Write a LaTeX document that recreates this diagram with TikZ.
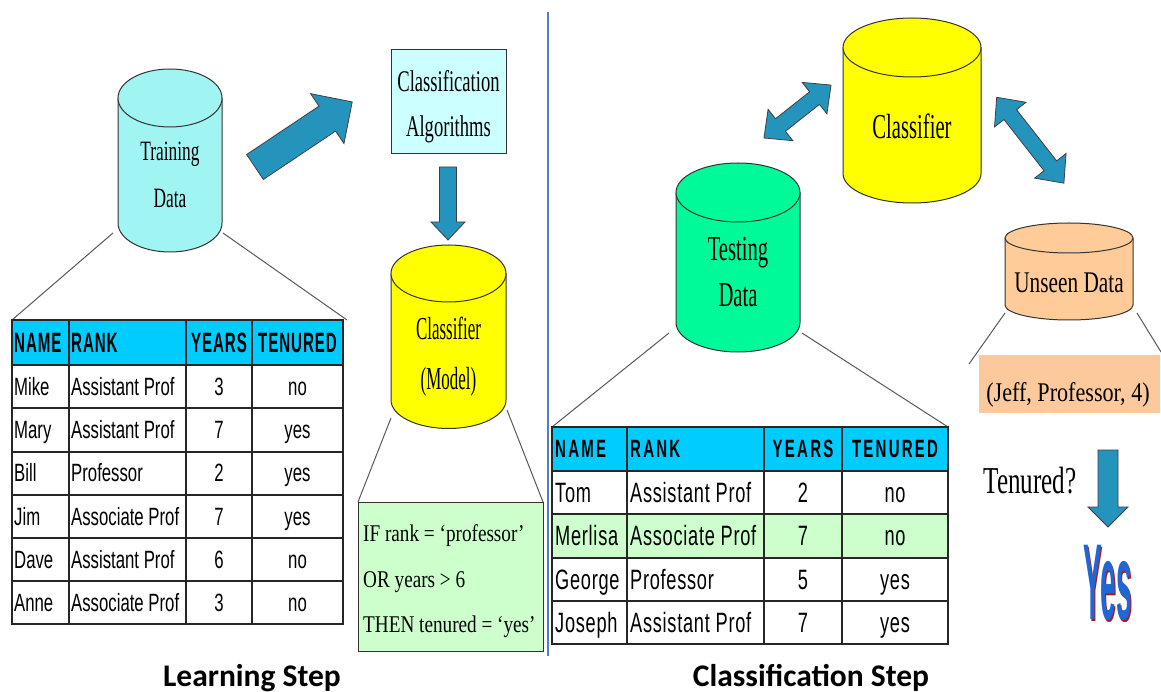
\documentclass[tikz,border=0pt]{standalone}
\usepackage{fontspec}
\usepackage{graphicx}
\setmainfont{Liberation Serif}
\newfontfamily\tsansA{Liberation Sans}
\newfontfamily\tsansB{Liberation Sans}[LetterSpace=4]
\newfontfamily\thdA{Liberation Sans}[LetterSpace=6]
\newfontfamily\thdB{Liberation Sans}[LetterSpace=15]
\newfontfamily\labfont{Carlito}
\newcommand\sq[2]{\scalebox{#1}[1]{#2}}
\newcommand\fs[1]{\fontsize{#1}{#1}\selectfont}
\newcommand\ml[4]{\scalebox{#1}[1]{\fontsize{#2}{#3}\selectfont\begin{tabular}{@{}c@{}}#4\end{tabular}}}
\definecolor{trainC}{HTML}{A0F4F2}
\definecolor{algC}{HTML}{CCFFFF}
\definecolor{yelC}{HTML}{FFFF00}
\definecolor{testC}{HTML}{00FA9A}
\definecolor{unseenC}{HTML}{FFCC99}
\definecolor{jeffC}{HTML}{FBC99B}
\definecolor{hdrC}{HTML}{00CCFF}
\definecolor{ruleC}{HTML}{CCFFCC}
\definecolor{arrC}{HTML}{2494BC}
\definecolor{divC}{HTML}{4F81BD}
\definecolor{yesB}{HTML}{1F66D6}
\definecolor{yesR}{HTML}{B01818}
\tikzset{
  cylline/.style={draw=black!80, line width=1pt},
  barrowsty/.style={fill=arrC, draw=black!75, line width=0.8pt, line join=miter},
  fan/.style={draw=black!65, line width=1pt},
  gridln/.style={draw=black!85, line width=1.6pt},
  divline/.style={draw=divC, line width=1.5pt},
  lbl/.style={inner sep=0pt},
  hA/.style={inner sep=0pt, font=\thdA\bfseries\fs{28}, text height=20pt, text depth=0pt},
  hB/.style={inner sep=0pt, font=\thdB\bfseries\fs{25}, text height=17.9pt, text depth=0pt},
  bA/.style={inner sep=0pt, font=\tsansA\fs{25}, text height=17.9pt, text depth=0pt},
  bB/.style={inner sep=0pt, font=\tsansB\fs{28}, text height=20pt, text depth=0pt},
  steplabel/.style={inner sep=0pt, font=\labfont\bfseries\fs{31.5}, text height=20pt, text depth=0pt},
  yesfont/.style={inner sep=0pt, font=\tsansA\bfseries\fs{108}},
}
\newcommand\cyl[6]{%
  \fill[#6] ({#1-#4},#2) rectangle ({#1+#4},#3);
  \fill[#6] (#1,#3) ellipse [x radius=#4pt, y radius=#5pt];
  \draw[cylline] ({#1-#4},#2) -- ({#1-#4},#3) arc[start angle=180, end angle=360, x radius=#4pt, y radius=#5pt] -- ({#1+#4},#2);
  \draw[cylline, fill=#6] (#1,#2) ellipse [x radius=#4pt, y radius=#5pt];
}
% name, x, y, angle, length, shaft half, head half, head length
\newcommand\blockarrow[8]{%
  \begin{scope}[shift={(#2,#3)}, rotate=#4]
    \draw[barrowsty] (0,{-#6}) -- ({#5-#8},{-#6}) -- ({#5-#8},{-#7}) -- (#5,0) -- ({#5-#8},#7) -- ({#5-#8},#6) -- (0,#6) -- cycle;
    \coordinate (#1) at (#5,0);
  \end{scope}}
\newcommand\dblarrow[8]{%
  \begin{scope}[shift={(#2,#3)}, rotate=#4]
    \draw[barrowsty] (0,0) -- (#8,{-#7}) -- (#8,{-#6}) -- ({#5-#8},{-#6}) -- ({#5-#8},{-#7}) -- (#5,0) -- ({#5-#8},#7) -- ({#5-#8},#6) -- (#8,#6) -- (#8,#7) -- cycle;
    \coordinate (#1) at (#5,0);
  \end{scope}}
\newcommand\yesword{\rlap{\color{yesR}\hspace{1.6pt}\raisebox{-1.6pt}{Yes}}\color{yesB}Yes}
\begin{document}
\begin{tikzpicture}[x=1pt,y=-1pt]
\useasboundingbox (0,0) rectangle (1161,692);
\fill[white] (0,0) rectangle (1161,692);

% ---------------- Learning step ----------------
\cyl{170}{98}{223}{52}{29}{trainC}
\node[lbl] (train) at (170,175) {\ml{0.62}{28}{47}{Training\\Data}};

\blockarrow{a1}{255}{167}{33.8}{117}{15}{30}{30}

\node[draw=black!80, line width=1pt, fill=algC, minimum width=115pt, minimum height=104pt, inner sep=0pt] (alg) at (448.5,102) {};
\node[lbl] (algtxt) at (448.5,105) {\ml{0.62}{30}{45}{Classification\\Algorithms}};

\blockarrow{a2}{448}{167}{-90}{73}{8.5}{17}{18}

\cyl{448.5}{273.5}{400}{57.5}{28.5}{yelC}
\node[lbl] (model) at (448.5,355) {\ml{0.53}{32}{50}{Classifier\\(Model)}};

% fan lines
\coordinate (trL) at (113,233); \coordinate (trR) at (223,233);
\coordinate (t1TL) at (12,320); \coordinate (t1TR) at (347,320);
\draw[fan] (trL) -- (t1TL);
\draw[fan] (trR) -- (t1TR);
\coordinate (mdL) at (391,418); \coordinate (mdR) at (507,410);
\coordinate (ruTL) at (358,502); \coordinate (ruTR) at (543,502);
\draw[fan] (mdL) -- (ruTL);
\draw[fan] (mdR) -- (ruTR);

% table 1
\fill[hdrC] (12,320) rectangle (343,365);
\foreach \y in {365,408,452,495,538,581} \draw[gridln] (12,\y) -- (343,\y);
\foreach \x in {69,186,252} \draw[gridln] (\x,320) -- (\x,624);
\draw[gridln] (12,320) rectangle (343,624);
\foreach \txt/\xx/\anc [count=\c] in {NAME/14/west, RANK/71/west, YEARS/219/center, TENURED/297.5/center}
  \node[hA, anchor=\anc] (t1h\c) at (\xx,342.5) {\sq{0.54}{\txt}};
\foreach \nm/\rk/\yr/\tn [count=\r] in {Mike/Assistant Prof/3/no, Mary/Assistant Prof/7/yes, Bill/Professor/2/yes, Jim/Associate Prof/7/yes, Dave/Assistant Prof/6/no, Anne/Associate Prof/3/no}{
  \pgfmathsetmacro\yc{365+(\r-0.5)*43.17}
  \node[bA, anchor=west] (t1n\r) at (14,\yc) {\sq{0.67}{\nm}};
  \node[bA, anchor=west] (t1k\r) at (71,\yc) {\sq{0.67}{\rk}};
  \node[bA] (t1y\r) at (219,\yc) {\sq{0.67}{\yr}};
  \node[bA] (t1t\r) at (297.5,\yc) {\sq{0.67}{\tn}};
}

% rules box
\node[draw=black!80, line width=1pt, fill=ruleC, minimum width=185pt, minimum height=149pt, anchor=north west, inner sep=0pt] (rules) at (ruTL) {};
\node[anchor=west, inner sep=0pt] (rulestxt) at (363,578) {\scalebox{0.8}[1]{\fontsize{24}{45.5}\selectfont\begin{tabular}{@{}l@{}}IF rank = ‘professor’\\OR years > 6\\THEN tenured = ‘yes’\end{tabular}}};

% divider
\coordinate (divTop) at (548,12); \coordinate (divBot) at (548,656);
\draw[divline] (divTop) -- (divBot);

% ---------------- Classification step ----------------
\cyl{912}{47.5}{173.5}{69}{29.5}{yelC}
\node[lbl, text height=23pt, text depth=0pt] (clf) at (912,127) {\sq{0.59}{\fs{35}Classifier}};

\cyl{738}{192.5}{322.5}{62}{29.5}{testC}
\node[lbl] (test) at (738,274) {\ml{0.59}{35}{46}{Testing\\Data}};

\dblarrow{d1}{764}{138}{38.3}{85.4}{8}{20}{21}
\dblarrow{d2}{996.7}{97.3}{-51.95}{109}{8}{20}{22}

\cyl{1069}{238}{305}{64}{15}{unseenC}
\node[lbl, text height=20pt, text depth=0pt] (unseen) at (1069,283) {\sq{0.71}{\fs{30}Unseen Data}};

\coordinate (tsL) at (669,333); \coordinate (tsR) at (802,333);
\coordinate (t2TL) at (552,427); \coordinate (t2TR) at (948,427);
\draw[fan] (tsL) -- (t2TL);
\draw[fan] (tsR) -- (t2TR);
\coordinate (unL) at (1005,313); \coordinate (unR) at (1137,313);
\coordinate (jfL) at (969,364); \coordinate (jfR) at (1161,352);
\draw[fan] (unL) -- (jfL);
\draw[fan] (unR) -- (jfR);

% table 2
\fill[hdrC] (552,427) rectangle (948,471);
\fill[ruleC] (552,514) rectangle (948,558);
\foreach \y in {471,514,558,601} \draw[gridln] (552,\y) -- (948,\y);
\foreach \x in {627,764,842} \draw[gridln] (\x,427) -- (\x,644);
\draw[gridln] (552,427) rectangle (948,644);
\foreach \txt/\xx/\anc [count=\c] in {NAME/555/west, RANK/630/west, YEARS/803/center, TENURED/895/center}
  \node[hB, anchor=\anc] (t2h\c) at (\xx,449) {\sq{0.6}{\txt}};
\foreach \nm/\rk/\yr/\tn [count=\r] in {Tom/Assistant Prof/2/no, Merlisa/Associate Prof/7/no, George/Professor/5/yes, Joseph/Assistant Prof/7/yes}{
  \pgfmathsetmacro\yc{471+(\r-0.5)*43.25}
  \node[bB, anchor=west] (t2n\r) at (555,\yc) {\sq{0.65}{\nm}};
  \node[bB, anchor=west] (t2k\r) at (630,\yc) {\sq{0.65}{\rk}};
  \node[bB] (t2y\r) at (803,\yc) {\sq{0.65}{\yr}};
  \node[bB] (t2t\r) at (895,\yc) {\sq{0.65}{\tn}};
}

% unseen record
\node[fill=jeffC, minimum width=181pt, minimum height=58pt, inner sep=0pt] (jeff) at (1069.5,384) {};
\node[lbl, text height=18pt, text depth=0pt] (jefftxt) at (1068,392) {\sq{0.82}{\fs{27}(Jeff, Professor, 4)}};

\node[lbl, text height=25pt, text depth=0pt] (tenq) at (1030,481) {\sq{0.66}{\fs{38}Tenured?}};
\blockarrow{a3}{1108}{450}{-90}{77}{10}{20}{20}

\node[yesfont] (yes) at (1108,584) {\sq{0.26}{\yesword}};

% step labels
\node[steplabel] (learn) at (252,676) {Learning Step};
\node[steplabel] (classify) at (811,676) {Classification Step};
\end{tikzpicture}
\end{document}
